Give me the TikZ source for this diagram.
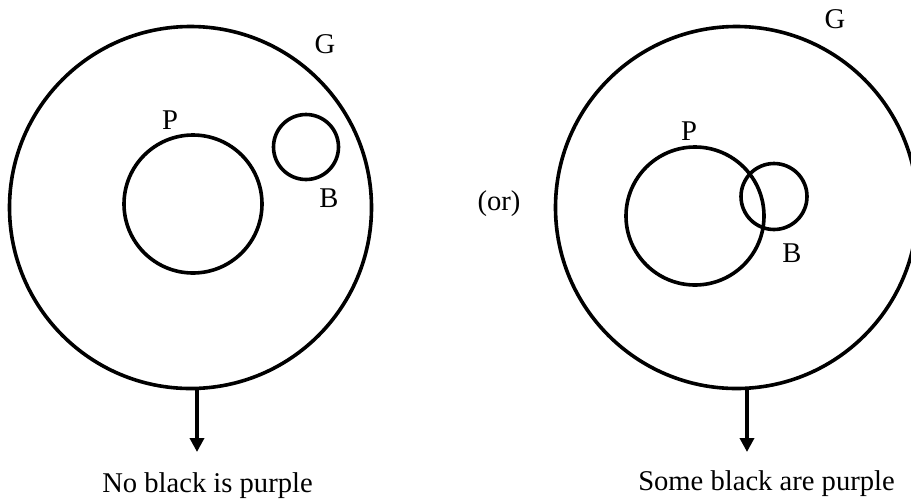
\documentclass[tikz,border=0pt]{standalone}
\usepackage{fontspec}
\setmainfont{Liberation Serif}
\usetikzlibrary{arrows.meta}
\begin{document}
\begin{tikzpicture}[x=0.5pt,y=-0.5pt,
  set/.style={circle,draw,line width=1.8pt,inner sep=0pt},
  lbl/.style={anchor=base,inner sep=0pt,font=\fontsize{14.3pt}{16pt}\selectfont},
  concl/.style={line width=1.9pt,-{Triangle[width=7pt,length=7pt]}}]
\useasboundingbox (0,0) rectangle (911,499);
\begin{scope}
\clip (0,0) rectangle (911,499);
% left diagram
\node[set,minimum size=181pt] (GL) at (190.5,207.5) {};
\node[set,minimum size=69pt] (PL) at (193,204) {};
\node[set,minimum size=32.5pt] (BL) at (306,147) {};
\node[lbl] (gL) at (325,53) {G};
\node[lbl] (pL) at (170,129) {P};
\node[lbl] (bL) at (329,207) {B};
\coordinate (tipL) at (197,452);
\draw[concl] (tipL |- GL.south) -- (tipL);
\node[lbl] (cL) at (207.5,492) {No black is purple};
% separator
\node[lbl] (or) at (499,210) {(or)};
% right diagram
\node[set,minimum size=181pt] (GR) at (736.5,207.5) {};
\node[set,minimum size=69pt] (PR) at (695,216) {};
\node[set,minimum size=33pt] (BR) at (774,196.5) {};
\node[lbl] (gR) at (835,28) {G};
\node[lbl] (pR) at (689,140) {P};
\node[lbl] (bR) at (792,262) {B};
\coordinate (tipR) at (747,452);
\draw[concl] (tipR |- GR.south) -- (tipR);
\node[lbl] (cR) at (766.5,490) {Some black are purple};
\end{scope}
\end{tikzpicture}
\end{document}
